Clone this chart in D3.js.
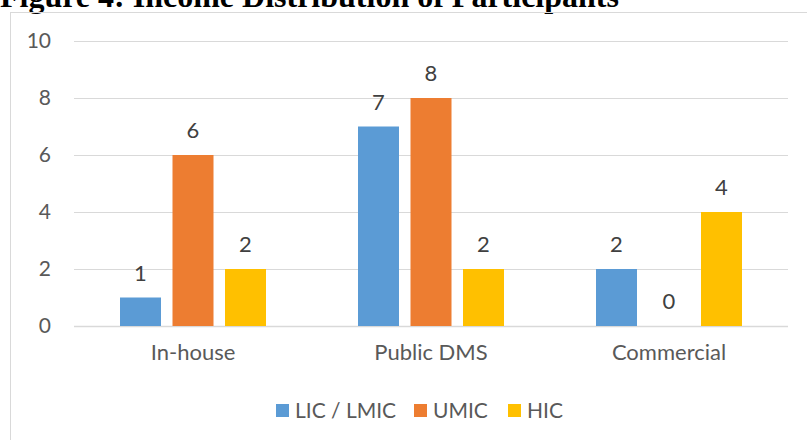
<!DOCTYPE html>
<html>
<head>
<meta charset="utf-8">
<script src="https://cdn.jsdelivr.net/npm/d3@7"></script>
<style>
  html, body { margin: 0; padding: 0; background: #fff; }
  svg { display: block; }
</style>
</head>
<body>
<svg id="chart"></svg>
<script>
const categories = ["In-house", "Public DMS", "Commercial"];
const seriesNames = ["LIC / LMIC", "UMIC", "HIC"];
const licValues = [1, 7, 2];
const umicValues = [6, 8, 0];
const hicValues = [2, 2, 4];
const yTicks = [0, 2, 4, 6, 8, 10];
const colors = ["#5B9BD5", "#ED7D31", "#FFC000"];

const W = 807, H = 440;
const plot = { left: 74, right: 788, top: 41, bottom: 326 };
const font = "Lato, 'Open Sans', sans-serif";
const textCol = "#595959";

const svg = d3.select("#chart").attr("width", W).attr("height", H);

// title (cut off at the top like the reference)
svg.append("text")
  .attr("x", 0)
  .attr("y", 7)
  .attr("font-family", "'Liberation Serif', 'Times New Roman', serif")
  .attr("font-weight", "bold")
  .attr("font-size", 32)
  .attr("fill", "#000")
  .text("Figure 4: Income Distribution of Participants");

// chart frame
svg.append("rect")
  .attr("x", 10.5).attr("y", 12.5)
  .attr("width", 820).attr("height", 460)
  .attr("fill", "none")
  .attr("stroke", "#D9D9D9")
  .attr("stroke-width", 1);

const seriesData = seriesNames.map((name, i) => ({
  name,
  color: colors[i],
  values: [licValues, umicValues, hicValues][i]
}));

const x0 = d3.scaleBand().domain(categories).range([plot.left, plot.right]);
const x1 = d3.scaleBand().domain(seriesNames).range([46, 192]).paddingInner(0.219);
const y = d3.scaleLinear().domain([0, 10]).range([plot.bottom, plot.top]);

// gridlines
const g = svg.append("g");
g.selectAll(".grid")
  .data(yTicks)
  .join("line")
  .attr("class", "grid")
  .attr("x1", plot.left).attr("x2", plot.right)
  .attr("y1", d => Math.round(y(d)) + 0.5).attr("y2", d => Math.round(y(d)) + 0.5)
  .attr("stroke", "#D9D9D9")
  .attr("stroke-width", d => d === 0 ? 1.5 : 1);

// y axis labels
const yAxis = svg.append("g")
  .attr("transform", `translate(${plot.left - 10},0)`)
  .call(d3.axisLeft(y).tickValues(yTicks).tickSize(0).tickPadding(13));
yAxis.select(".domain").remove();
yAxis.selectAll("text")
  .attr("font-family", font)
  .attr("font-size", 21)
  .attr("fill", textCol);

// x axis labels
const xAxis = svg.append("g")
  .attr("transform", `translate(0,${plot.bottom})`)
  .call(d3.axisBottom(x0).tickSize(0).tickPadding(18));
xAxis.select(".domain").remove();
xAxis.selectAll("text")
  .attr("font-family", font)
  .attr("font-size", 22)
  .attr("fill", textCol);

// bars
const groups = svg.selectAll(".series")
  .data(seriesData)
  .join("g")
  .attr("class", "series");

groups.selectAll("rect")
  .data(s => s.values.map((v, i) => ({ cat: categories[i], v, s })))
  .join("rect")
  .attr("x", d => x0(d.cat) + x1(d.s.name))
  .attr("width", x1.bandwidth())
  .attr("y", d => y(d.v))
  .attr("height", d => y(0) - y(d.v))
  .attr("fill", d => d.s.color);

// data labels
groups.selectAll(".lbl")
  .data(s => s.values.map((v, i) => ({ cat: categories[i], v, s })))
  .join("text")
  .attr("class", "lbl")
  .attr("x", d => x0(d.cat) + x1(d.s.name) + x1.bandwidth() / 2)
  .attr("y", d => y(d.v) - 17)
  .attr("text-anchor", "middle")
  .attr("font-family", font)
  .attr("font-size", 22)
  .attr("fill", "#404040")
  .text(d => d.v);

// legend
const legendX = [276, 414, 508];
const legend = svg.selectAll(".legend")
  .data(seriesData)
  .join("g")
  .attr("class", "legend")
  .attr("transform", (d, i) => `translate(${legendX[i]},404)`);
legend.append("rect")
  .attr("width", 13).attr("height", 13)
  .attr("fill", d => d.color);
legend.append("text")
  .attr("x", 19).attr("y", 14)
  .attr("font-family", font)
  .attr("font-size", 21)
  .attr("fill", textCol)
  .text(d => d.name);
</script>
</body>
</html>
